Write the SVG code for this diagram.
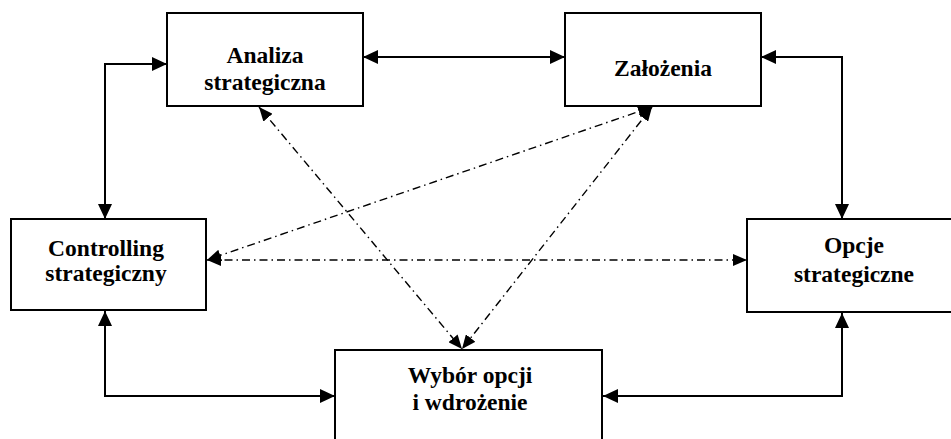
<svg xmlns="http://www.w3.org/2000/svg" width="951" height="439" viewBox="0 0 951 439">
<style>
.box{fill:#fff;stroke:#000;stroke-width:2}
.t{font-family:serif;font-weight:700;font-size:23.5px;text-anchor:middle;fill:#000}
.s{fill:none;stroke:#000;stroke-width:2}
.d{fill:none;stroke:#000;stroke-width:1.4;stroke-dasharray:8 4 1.5 4}
</style>
<defs>
<marker id="a" markerUnits="userSpaceOnUse" viewBox="0 0 15 14" refX="15" refY="7" markerWidth="15" markerHeight="14" orient="auto-start-reverse"><path d="M0,0 L15,7 L0,14 z" fill="#000"/></marker>
<marker id="b" markerUnits="userSpaceOnUse" viewBox="0 0 14 12" refX="14" refY="6" markerWidth="14" markerHeight="12" orient="auto-start-reverse"><path d="M0,0 L14,6 L0,12 z" fill="#000"/></marker>
</defs>
<g id="connectors">
<path class="s" d="M363,57 H565" marker-start="url(#a)" marker-end="url(#a)"/>
<path class="s" d="M105,219 V64 H167" marker-start="url(#a)" marker-end="url(#a)"/>
<path class="s" d="M761,57 H842 V219" marker-start="url(#a)" marker-end="url(#a)"/>
<path class="s" d="M105,311 V396 H335" marker-start="url(#a)" marker-end="url(#a)"/>
<path class="s" d="M842,313 V396 H603" marker-start="url(#a)" marker-end="url(#a)"/>
<path class="d" d="M259,107 L462,349" marker-start="url(#b)" marker-end="url(#b)"/>
<path class="d" d="M652,107 L462,349" marker-start="url(#b)" marker-end="url(#b)"/>
<path class="d" d="M652,107 L207,260" marker-start="url(#b)" marker-end="url(#b)"/>
<path class="d" d="M207,260 H747" marker-start="url(#b)" marker-end="url(#b)"/>
</g>
<g id="analiza"><rect class="box" x="167" y="13" width="196" height="93"/><text class="t" x="265" y="63">Analiza</text><text class="t" x="265" y="90">strategiczna</text></g>
<g id="zalozenia"><rect class="box" x="565" y="13" width="196" height="93"/><text class="t" x="663" y="76">Założenia</text></g>
<g id="controlling"><rect class="box" x="11" y="219" width="195" height="91"/><text class="t" x="106" y="256">Controlling</text><text class="t" x="106" y="281">strategiczny</text></g>
<g id="opcje"><rect class="box" x="747" y="219" width="215" height="93"/><text class="t" x="854" y="253">Opcje</text><text class="t" x="854" y="282">strategiczne</text></g>
<g id="wybor"><rect class="box" x="335" y="350" width="267" height="100"/><text class="t" x="470" y="383">Wybór opcji</text><text class="t" x="470" y="410">i wdrożenie</text></g>
</svg>
